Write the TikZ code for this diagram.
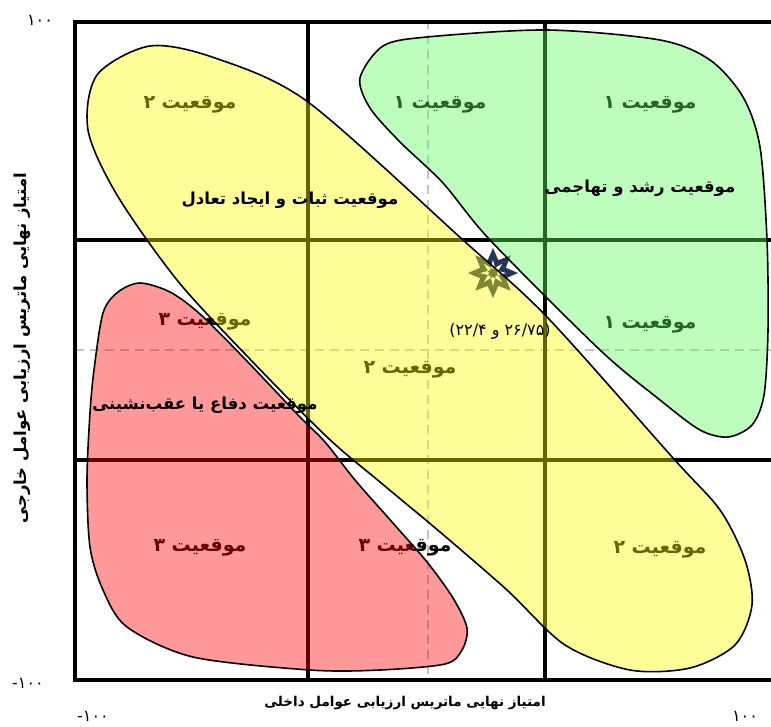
\documentclass[tikz,border=0pt]{standalone}
\usepackage{fontspec}
\usetikzlibrary{shapes.geometric}
\TeXXeTstate=1
\newfontfamily\fa[Script=Arabic]{DejaVu Sans}
\definecolor{ylw}{RGB}{255,255,0}
\definecolor{grn}{RGB}{92,255,92}
\definecolor{rd}{RGB}{255,0,0}
\definecolor{navy}{RGB}{40,55,90}
\definecolor{dgray}{RGB}{195,195,195}
\tikzset{
  posl/.style={font=\fa\bfseries\fontsize{19}{22}\selectfont, inner sep=0},
  ttl/.style={font=\fa\bfseries\fontsize{16.5}{19}\selectfont, inner sep=0},
  axl/.style={font=\fa\bfseries\fontsize{13.5}{16}\selectfont, inner sep=0},
  axly/.style={font=\fa\bfseries\fontsize{16.5}{19}\selectfont, inner sep=0},
  numl/.style={font=\fa\fontsize{16}{18}\selectfont, inner sep=0},
  coordl/.style={font=\fa\fontsize{16}{18}\selectfont, inner sep=0},
  dashl/.style={draw=dgray, line width=2, dash pattern=on 9 off 6},
  gridl/.style={draw=black, line width=3.5},
  framel/.style={draw=black, line width=4},
  blob/.style={draw=black, line width=1.6, fill opacity=0.4},
}
\begin{document}
\begin{tikzpicture}[x=1pt,y=-1pt]
\useasboundingbox (0,0) rectangle (771,726);
% dashed zero lines
\draw[dashl] (428,20) -- (428,680);
\draw[dashl] (75,350) -- (780,350);
% grid
\draw[gridl] (308,20) -- (308,680);
\draw[gridl] (545,20) -- (545,680);
\draw[gridl] (75,240) -- (780,240);
\draw[gridl] (75,460) -- (780,460);
% frame
\draw[framel] (780,21.5) -- (75,21.5) -- (75,680) -- (780,680);
% axis texts
\node[numl] (t100) at (40,20) {۱۰۰};
\node[numl] (lm100) at (28,683) {-\kern0pt ۱۰۰};
\node[numl] (bm100) at (93,716) {-\kern0pt ۱۰۰};
\node[numl] (b100) at (745,716) {۱۰۰};
\node[axl] (xlab) at (405,703) {\beginR امتیاز نهایی ماتریس ارزیابی عوامل داخلی\endR};
\node[axly, rotate=90] (ylab) at (22,348) {\beginR امتیاز نهایی ماتریس ارزیابی عوامل خارجی\endR};
% position labels (under the shapes)
\node[posl] (p2a) at (190,105) {\beginR موقعیت ۲\endR};
\node[posl] (p1a) at (440,105) {\beginR موقعیت ۱\endR};
\node[posl] (p1b) at (650,105) {\beginR موقعیت ۱\endR};
\node[posl] (p1c) at (650,325) {\beginR موقعیت ۱\endR};
\node[posl] (p3a) at (205,322) {\beginR موقعیت ۳\endR};
\node[posl] (p2b) at (410,370) {\beginR موقعیت ۲\endR};
\node[posl] (p3b) at (200,548) {\beginR موقعیت ۳\endR};
\node[posl] (p3c) at (405,548) {\beginR موقعیت ۳\endR};
\node[posl] (p2c) at (660,550) {\beginR موقعیت ۲\endR};
% star
\node[star, star points=8, star point ratio=1.8, minimum size=50, inner sep=0, fill=navy] (st) at (493,273) {};
\node[star, star points=8, star point ratio=2.4, minimum size=26, inner sep=0, fill=white] (st2) at (493,273) {};
\node[star, star points=8, star point ratio=1.6, minimum size=12, inner sep=0, fill=navy, rotate=22.5] (st3) at (493,273) {};
% shapes
\draw[blob, fill=ylw] plot[smooth cycle, tension=0.5] coordinates {
 (150,46) (215,58) (308,102) (463,240) (547,317) (673,458) (720,510) (745,560)
 (752,605) (735,645) (690,668) (630,670) (565,645) (507,590) (440,532) (380,482) (327,437)
 (247,356) (177,280) (117,195) (88,130) (97,75)};
\draw[blob, fill=grn] plot[smooth cycle, tension=0.5] coordinates {
 (383,46) (427,37) (547,30) (660,40) (710,60) (743,97) (760,147) (767,240)
 (768,330) (764,395) (752,425) (728,437) (700,430) (660,400) (600,350)
 (490,240) (443,183) (400,142) (370,108) (360,78)};
\draw[blob, fill=rd] plot[smooth cycle, tension=0.5] coordinates {
 (140,283) (170,292) (200,314) (244,358) (300,417) (325,442) (355,480) (392,522) (427,562)
 (453,598) (467,628) (462,650) (445,664) (380,670) (310,670) (193,657)
 (127,627) (103,590) (90,547) (87,480) (90,413) (94,370) (103,313) (118,292)};
% titles on top
\node[ttl] (tstab) at (290,200) {\beginR موقعیت ثبات و ایجاد تعادل\endR};
\node[ttl] (tgrow) at (640,188) {\beginR موقعیت رشد و تهاجمی\endR};
\node[ttl] (tdef) at (205,405) {\beginR موقعیت دفاع یا عقب‌نشینی\endR};
\node[coordl] (coord) at (500,331) {\beginR(۲۶/۷۵ و ۲۲/۴)\endR};
\end{tikzpicture}
\end{document}
